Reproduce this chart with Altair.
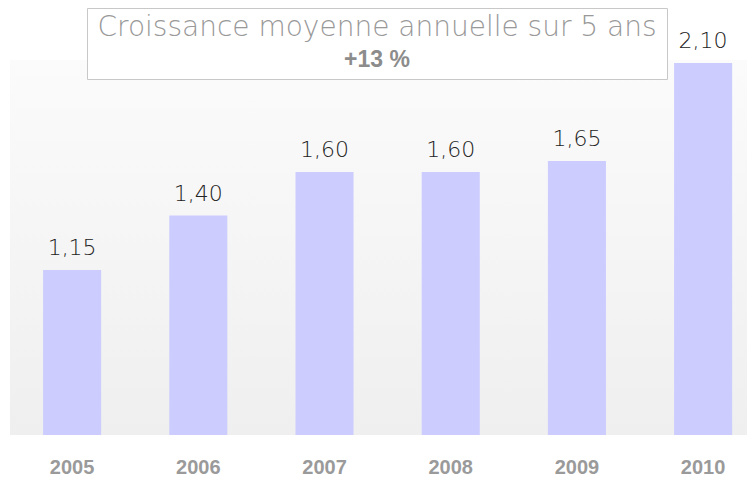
import altair as alt
import pandas as pd

years = ["2005", "2006", "2007", "2008", "2009", "2010"]
values = [1.15, 1.40, 1.60, 1.60, 1.65, 2.10]
labels = [f"{v:.2f}".replace(".", ",") for v in values]
title_line1 = "Croissance moyenne annuelle sur 5 ans"
title_line2 = "+13 %"

df = pd.DataFrame({"year": years, "value": values, "label": labels})

W = 739
H = 427

xscale = alt.Scale(range=[2, 739], paddingInner=0.54, paddingOuter=0.19, align=0.69)
yscale = alt.Scale(domain=[0.393, 2.352], zero=False)

xenc = alt.X("year:N", scale=xscale, sort=years,
             axis=alt.Axis(title=None, labelAngle=0, domain=False, ticks=False,
                           labelPadding=22, labelFont="Liberation Sans",
                           labelFontWeight="bold", labelFontSize=20,
                           labelColor="#9a9a9a"))
yenc = alt.Y("value:Q", scale=yscale, axis=None)

one = pd.DataFrame({"d": [0]})

bg = alt.Chart(one).mark_rect(
    color=alt.Gradient(
        gradient="linear",
        stops=[alt.GradientStop(color="#fbfbfb", offset=0),
               alt.GradientStop(color="#efefef", offset=1)],
        x1=0, x2=0, y1=0, y2=1)
).encode(x=alt.value(2), x2=alt.value(W), y=alt.value(52), y2=alt.value(H))

bars = alt.Chart(df).mark_bar(color="#ccccff", clip=True).encode(x=xenc, y=yenc)

vals = alt.Chart(df).mark_text(
    dy=-15, baseline="alphabetic", font="DejaVu Sans", fontWeight=300,
    fontSize=22, color="#222222"
).encode(x=xenc, y=yenc, text="label:N")

box = alt.Chart(one).mark_rect(fill="white", stroke="#c8c8c8", strokeWidth=1).encode(
    x=alt.value(79.5), x2=alt.value(659.5), y=alt.value(0.5), y2=alt.value(71.5))

t1 = alt.Chart(pd.DataFrame({"t": [title_line1]})).mark_text(
    font="DejaVu Sans", fontWeight=300, fontSize=28, color="#999999",
    baseline="middle", align="center"
).encode(x=alt.value(369), y=alt.value(20), text="t:N")

t2 = alt.Chart(pd.DataFrame({"t": [title_line2]})).mark_text(
    font="Liberation Sans", fontWeight="bold", fontSize=23, color="#8c8c8c",
    baseline="middle", align="center"
).encode(x=alt.value(369), y=alt.value(52), text="t:N")

chart = alt.layer(bg, bars, vals, box, t1, t2).properties(
    width=W, height=H, padding=0, background="white"
).configure_view(stroke=None)

chart.save("out.html", embed_options={"renderer": "svg", "actions": False})
